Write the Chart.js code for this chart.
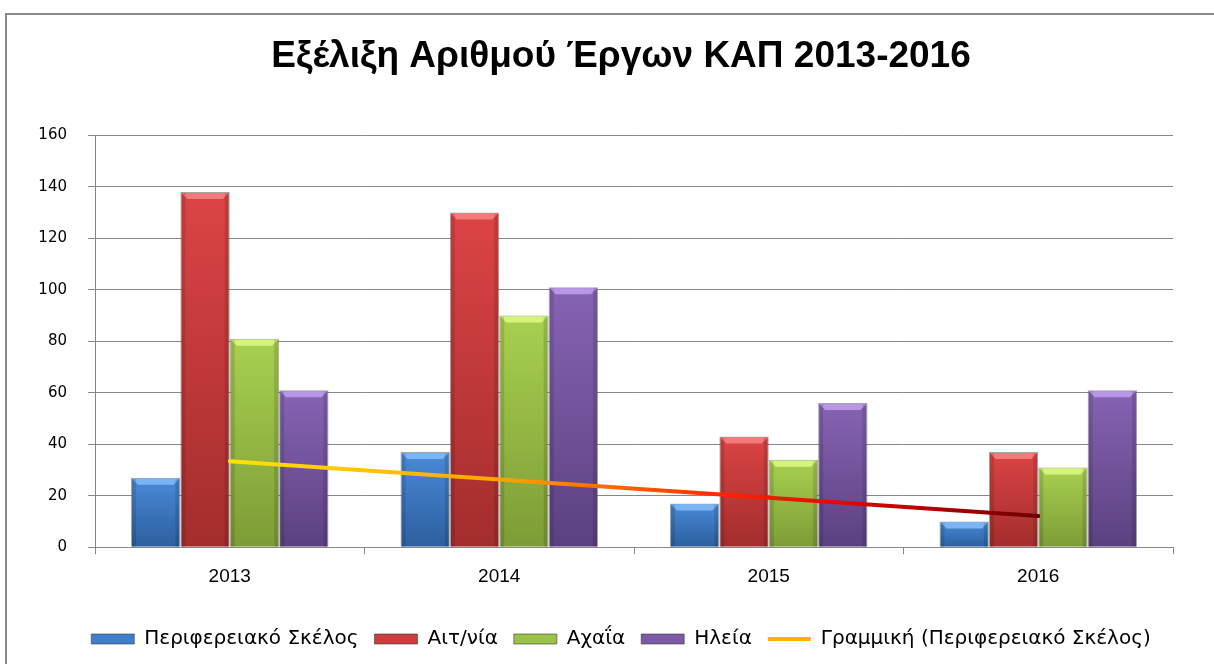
<!DOCTYPE html>
<html>
<head>
<meta charset="utf-8">
<script src="https://cdn.jsdelivr.net/npm/chart.js@4/dist/chart.umd.min.js"></script>
<style>
  body { margin: 0; background: #fff; overflow: hidden; }
  #frame { position: absolute; left: 5px; top: 13px; width: 1220px; height: 700px;
           border-left: 2px solid #8a8a8a; border-top: 2px solid #8a8a8a; }
  #wrap { position: absolute; left: 0; top: 0; width: 1242px; height: 664px; }
</style>
</head>
<body>
<div id="frame"></div>
<div id="wrap"><canvas id="chart"></canvas></div>
<script>
// --- data ---
const years = ['2013', '2014', '2015', '2016'];
const perifereiako = [27, 37, 17, 10];
const aitnia = [138, 130, 43, 37];
const achaia = [81, 90, 34, 31];
const ileia = [61, 101, 56, 61];
const trendPerif = [33.4, 26.3, 19.2, 12.1];
const yMax = 160;
const yStep = 20;

// vertical gradient per bar, light top -> dark bottom
function barFill(top, bottom) {
    return ctx => {
        const chart = ctx.chart;
        const area = chart.chartArea;
        if (!area || ctx.type !== 'data') return top;
        const yTop = chart.scales.y.getPixelForValue(ctx.raw);
        const g = chart.ctx.createLinearGradient(0, yTop, 0, area.bottom);
        g.addColorStop(0, top);
        g.addColorStop(1, bottom);
        return g;
    };
}

// trend line colour runs yellow -> red -> dark red
function trendStroke(ctx) {
    const chart = ctx.chart;
    if (!chart.chartArea) return '#ff8000';
    const x0 = chart.scales.x.getPixelForValue(0);
    const x1 = chart.scales.x.getPixelForValue(years.length - 1);
    const g = chart.ctx.createLinearGradient(x0, 0, x1, 0);
    g.addColorStop(0, '#ffe400');
    g.addColorStop(0.35, '#ffa000');
    g.addColorStop(0.62, '#ff2200');
    g.addColorStop(0.82, '#cc0000');
    g.addColorStop(1, '#6a0000');
    return g;
}

// light bevel on the top of every bar
const bevel = {
    id: 'bevel',
    afterDatasetDraw(chart, args) {
        const meta = args.meta;
        if (meta.type !== 'bar') return;
        const ds = chart.data.datasets[args.index];
        const c = chart.ctx;
        c.save();
        meta.data.forEach(bar => {
            const l = bar.x - bar.width / 2 + 1, r = bar.x + bar.width / 2 - 1, t = bar.y + 1;
            c.fillStyle = ds.bevelColor;
            c.beginPath();
            c.moveTo(l, t); c.lineTo(r, t); c.lineTo(r - 6, t + 6); c.lineTo(l + 6, t + 6);
            c.closePath();
            c.fill();
            c.fillStyle = 'rgba(0,0,0,0.12)';
            c.fillRect(l, t, 4, bar.base - t);
            c.fillRect(r - 4, t, 4, bar.base - t);
        });
        c.restore();
    }
};

const gridColor = '#878787';

new Chart(document.getElementById('chart'), {
    data: {
        labels: years,
        datasets: [
            { type: 'bar', label: 'Περιφερειακό Σκέλος', data: perifereiako,
              backgroundColor: barFill('#4a8ad8', '#2c5f9e'), bevelColor: '#79b4f5', legendColor: '#3f7fcc', order: 1 },
            { type: 'bar', label: 'Αιτ/νία', data: aitnia,
              backgroundColor: barFill('#dc4444', '#a32d2d'), bevelColor: '#f27a7a', legendColor: '#cc3d3d', order: 1 },
            { type: 'bar', label: 'Αχαΐα', data: achaia,
              backgroundColor: barFill('#a8d050', '#7d9c36'), bevelColor: '#d4f57c', legendColor: '#9bc248', order: 1 },
            { type: 'bar', label: 'Ηλεία', data: ileia,
              backgroundColor: barFill('#8763b4', '#5b4180'), bevelColor: '#b797e6', legendColor: '#7d5aa6', order: 1 },
            { type: 'line', label: 'Γραμμική (Περιφερειακό Σκέλος)', data: trendPerif,
              borderColor: trendStroke, borderWidth: 4, borderCapStyle: 'round',
              pointRadius: 0, fill: false, tension: 0, legendColor: '#ffb000', order: 0 }
        ]
    },
    options: {
        responsive: true,
        maintainAspectRatio: false,
        animation: false,
        datasets: {
            bar: { categoryPercentage: 0.733, barPercentage: 1.0,
                   borderWidth: 1, borderColor: 'rgba(90,90,90,0.55)' }
        },
        layout: { padding: { left: 0, right: 0, top: 0, bottom: 5 } },
        plugins: {
            tooltip: { enabled: false },
            title: {
                display: true,
                text: 'Εξέλιξη Αριθμού Έργων ΚΑΠ 2013-2016',
                color: '#000',
                font: { family: '"Liberation Sans", Arial, sans-serif', size: 37, weight: 'bold' },
                padding: { top: 35, bottom: 56 }
            },
            legend: {
                position: 'bottom',
                labels: {
                    color: '#000',
                    font: { family: '"DejaVu Sans", sans-serif', size: 20 },
                    usePointStyle: true,
                    pointStyleWidth: 43,
                    boxHeight: 10,
                    padding: 16,
                    generateLabels: chart => chart.data.datasets.map((ds, i) => ({
                        text: ds.label,
                        fillStyle: ds.legendColor,
                        strokeStyle: ds.type === 'line' ? ds.legendColor : 'rgba(60,60,60,0.6)',
                        lineWidth: ds.type === 'line' ? 4 : 1,
                        pointStyle: ds.type === 'line' ? 'line' : 'rect',
                        fontColor: '#000',
                        hidden: false,
                        datasetIndex: i
                    }))
                }
            }
        },
        scales: {
            x: {
                offset: true,
                afterFit: scale => { scale.height += 14; },
                grid: { offset: true, drawOnChartArea: false, tickLength: 7, color: gridColor },
                border: { color: gridColor, width: 1 },
                ticks: { color: '#000', padding: 11,
                         font: { family: '"Liberation Sans", sans-serif', size: 19 } }
            },
            y: {
                min: 0, max: yMax,
                afterFit: scale => { scale.width = 95; },
                grid: { color: gridColor, tickLength: 7 },
                border: { color: gridColor, width: 1 },
                ticks: { stepSize: yStep, color: '#000', padding: 21,
                         font: { family: '"DejaVu Sans", sans-serif', size: 15 } }
            },
            // empty right-hand margin so title and legend centre on the full frame
            yRight: {
                position: 'right',
                display: true,
                min: 0, max: yMax,
                afterFit: scale => { scale.width = 69; },
                grid: { display: false, drawOnChartArea: false },
                border: { display: false },
                ticks: { display: false }
            }
        }
    },
    plugins: [bevel]
});
</script>
</body>
</html>
